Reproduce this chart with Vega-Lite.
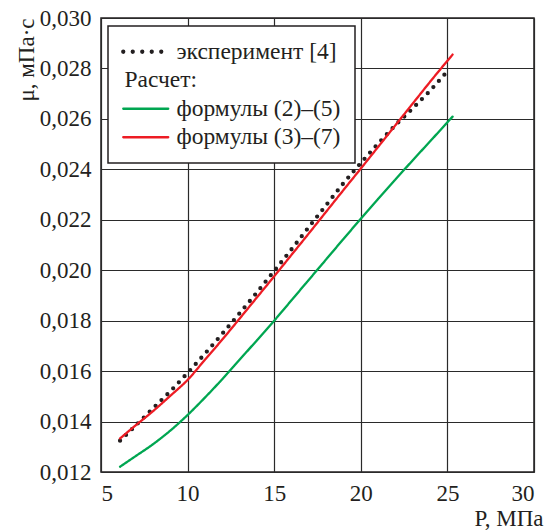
{
  "$schema": "https://vega.github.io/schema/vega-lite/v6.json",
  "width": 433,
  "height": 454,
  "autosize": {"type": "none"},
  "padding": {"left": 101, "top": 18, "right": 12, "bottom": 59},
  "background": "white",
  "config": {
    "font": "Liberation Serif, Times New Roman, serif",
    "view": {"stroke": "#231f20", "strokeWidth": 1.5},
    "axis": {
      "gridColor": "#2a2a2a", "gridWidth": 1.2, "gridOpacity": 1,
      "domain": false, "ticks": false,
      "labelFont": "Liberation Serif, Times New Roman, serif", "labelFontSize": 23, "labelColor": "#231f20",
      "titleFont": "Liberation Serif, Times New Roman, serif", "titleFontSize": 23, "titleFontWeight": "normal", "titleColor": "#231f20"
    }
  },
  "data": {"values": [
    {"series": "эксперимент [4]", "P": 6.1, "mu": 0.01324},
    {"series": "эксперимент [4]", "P": 7, "mu": 0.01384},
    {"series": "эксперимент [4]", "P": 8, "mu": 0.01452},
    {"series": "эксперимент [4]", "P": 9, "mu": 0.0152},
    {"series": "эксперимент [4]", "P": 10, "mu": 0.01593},
    {"series": "эксперимент [4]", "P": 11, "mu": 0.01669},
    {"series": "эксперимент [4]", "P": 12, "mu": 0.01748},
    {"series": "эксперимент [4]", "P": 13, "mu": 0.01829},
    {"series": "эксперимент [4]", "P": 14, "mu": 0.01912},
    {"series": "эксперимент [4]", "P": 15, "mu": 0.01997},
    {"series": "эксперимент [4]", "P": 16, "mu": 0.02083},
    {"series": "эксперимент [4]", "P": 17, "mu": 0.02171},
    {"series": "эксперимент [4]", "P": 18, "mu": 0.02258},
    {"series": "эксперимент [4]", "P": 19, "mu": 0.02345},
    {"series": "эксперимент [4]", "P": 20, "mu": 0.02425},
    {"series": "эксперимент [4]", "P": 21, "mu": 0.02502},
    {"series": "эксперимент [4]", "P": 22, "mu": 0.02575},
    {"series": "эксперимент [4]", "P": 23, "mu": 0.02642},
    {"series": "эксперимент [4]", "P": 24, "mu": 0.02712},
    {"series": "эксперимент [4]", "P": 25.1, "mu": 0.02797},
    {"series": "формулы (2)–(5)", "P": 6.1, "mu": 0.01221},
    {"series": "формулы (2)–(5)", "P": 7, "mu": 0.01263},
    {"series": "формулы (2)–(5)", "P": 8, "mu": 0.0131},
    {"series": "формулы (2)–(5)", "P": 9, "mu": 0.01364},
    {"series": "формулы (2)–(5)", "P": 10, "mu": 0.01426},
    {"series": "формулы (2)–(5)", "P": 11, "mu": 0.01495},
    {"series": "формулы (2)–(5)", "P": 12, "mu": 0.01568},
    {"series": "формулы (2)–(5)", "P": 13, "mu": 0.01645},
    {"series": "формулы (2)–(5)", "P": 14, "mu": 0.01722},
    {"series": "формулы (2)–(5)", "P": 15, "mu": 0.018},
    {"series": "формулы (2)–(5)", "P": 16, "mu": 0.01881},
    {"series": "формулы (2)–(5)", "P": 17, "mu": 0.01962},
    {"series": "формулы (2)–(5)", "P": 18, "mu": 0.02043},
    {"series": "формулы (2)–(5)", "P": 19, "mu": 0.02124},
    {"series": "формулы (2)–(5)", "P": 20, "mu": 0.02204},
    {"series": "формулы (2)–(5)", "P": 21, "mu": 0.02283},
    {"series": "формулы (2)–(5)", "P": 22, "mu": 0.0236},
    {"series": "формулы (2)–(5)", "P": 23, "mu": 0.02436},
    {"series": "формулы (2)–(5)", "P": 24, "mu": 0.02511},
    {"series": "формулы (2)–(5)", "P": 25.3, "mu": 0.02609},
    {"series": "формулы (3)–(7)", "P": 6.1, "mu": 0.01333},
    {"series": "формулы (3)–(7)", "P": 7, "mu": 0.01385},
    {"series": "формулы (3)–(7)", "P": 8, "mu": 0.01441},
    {"series": "формулы (3)–(7)", "P": 9, "mu": 0.01502},
    {"series": "формулы (3)–(7)", "P": 10, "mu": 0.01565},
    {"series": "формулы (3)–(7)", "P": 11, "mu": 0.01645},
    {"series": "формулы (3)–(7)", "P": 12, "mu": 0.01725},
    {"series": "формулы (3)–(7)", "P": 13, "mu": 0.01808},
    {"series": "формулы (3)–(7)", "P": 14, "mu": 0.01892},
    {"series": "формулы (3)–(7)", "P": 15, "mu": 0.01976},
    {"series": "формулы (3)–(7)", "P": 16, "mu": 0.02061},
    {"series": "формулы (3)–(7)", "P": 17, "mu": 0.02146},
    {"series": "формулы (3)–(7)", "P": 18, "mu": 0.02232},
    {"series": "формулы (3)–(7)", "P": 19, "mu": 0.02318},
    {"series": "формулы (3)–(7)", "P": 20, "mu": 0.02403},
    {"series": "формулы (3)–(7)", "P": 21, "mu": 0.02489},
    {"series": "формулы (3)–(7)", "P": 22, "mu": 0.02575},
    {"series": "формулы (3)–(7)", "P": 23, "mu": 0.02661},
    {"series": "формулы (3)–(7)", "P": 24, "mu": 0.02747},
    {"series": "формулы (3)–(7)", "P": 25.3, "mu": 0.02855}
  ]},
  "mark": {"type": "line", "strokeCap": "round", "strokeJoin": "round", "interpolate": "monotone"},
  "encoding": {
    "x": {
      "field": "P", "type": "quantitative",
      "scale": {"domain": [5, 30], "nice": false},
      "axis": {
        "values": [5, 10, 15, 20, 25, 30],
        "labelPadding": 10,
        "title": "P, МПа",
        "titleAnchor": "end", "titleAlign": "right", "titleBaseline": "alphabetic",
        "titleX": 442, "titleY": 53
      }
    },
    "y": {
      "field": "mu", "type": "quantitative",
      "scale": {"domain": [0.012, 0.03], "nice": false, "zero": false},
      "axis": {
        "values": [0.012, 0.014, 0.016, 0.018, 0.02, 0.022, 0.024, 0.026, 0.028, 0.03],
        "labelExpr": "replace(format(datum.value, '.3f'), '.', ',')",
        "labelPadding": 10,
        "title": "μ, мПа·с",
        "titleAngle": -90, "titleAlign": "right", "titleBaseline": "alphabetic",
        "titleX": -68, "titleY": 0
      }
    },
    "color": {
      "field": "series", "type": "nominal",
      "scale": {
        "domain": ["эксперимент [4]", "Расчет:", "формулы (2)–(5)", "формулы (3)–(7)"],
        "range": ["#231f20", "#ffffff", "#00a651", "#ed1c24"]
      },
      "legend": {
        "title": null,
        "orient": "none", "legendX": 7, "legendY": 8,
        "symbolType": "stroke", "symbolSize": 2025, "symbolStrokeWidth": 2.3,
        "symbolOffset": 12, "rowPadding": 3.5,
        "labelFont": "Liberation Serif, Times New Roman, serif", "labelFontSize": 23.5, "labelColor": "#231f20",
        "labelLimit": 400,
        "labelOffset": 19, "padding": 14,
        "fillColor": "white", "strokeColor": "#231f20",
        "encode": {
          "symbols": {"update": {
            "strokeCap": {"value": "round"},
            "strokeWidth": {"signal": "datum.label === 'эксперимент [4]' ? 4.3 : 2.3"},
            "strokeDash": {"signal": "datum.label === 'эксперимент [4]' ? [0, 9.5] : [1, 0]"},
            "opacity": {"signal": "datum.label === 'Расчет:' ? 0 : 1"}
          }},
          "labels": {"update": {"dx": {"signal": "datum.label === 'Расчет:' ? -52 : 0"}}},
          "legend": {"update": {"strokeWidth": {"value": 1.5}}}
        }
      }
    },
    "strokeWidth": {"condition": {"test": "datum.series === 'эксперимент [4]'", "value": 4.3}, "value": 2.3},
    "strokeDash": {"condition": {"test": "datum.series === 'эксперимент [4]'", "value": [0, 8.3]}, "value": [1, 0]}
  }
}
